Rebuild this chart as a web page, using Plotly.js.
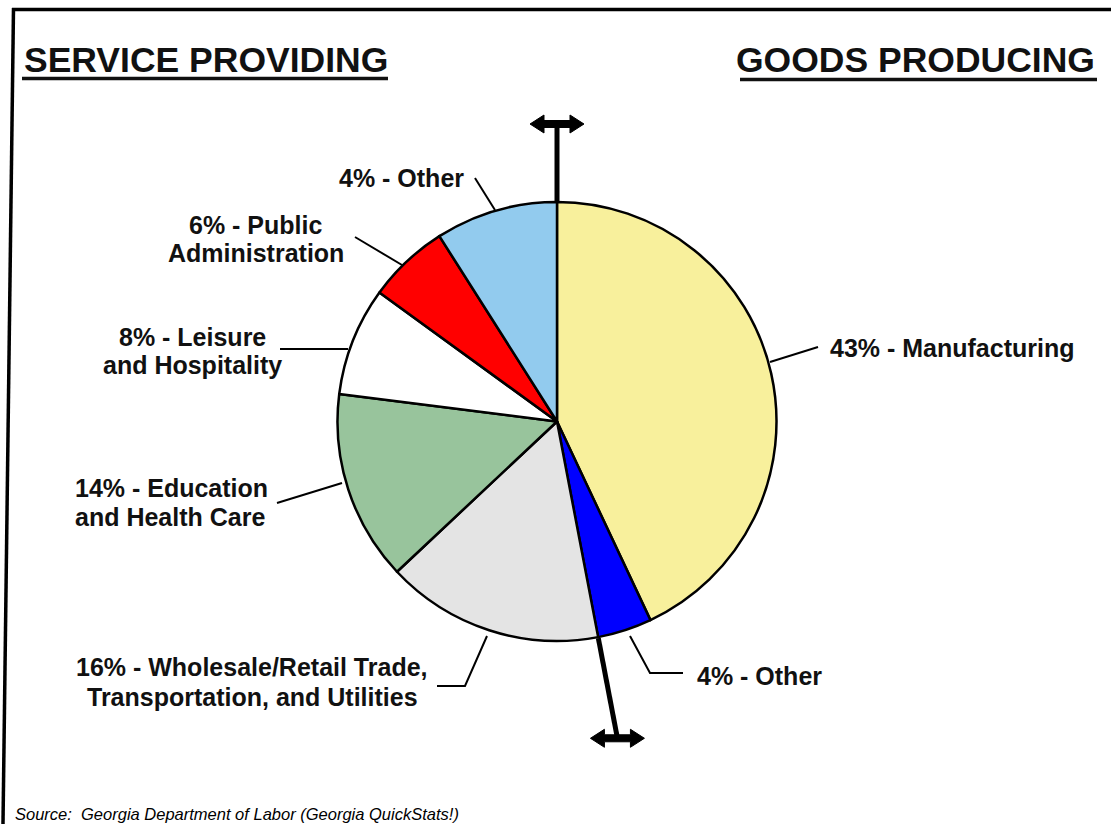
<!DOCTYPE html>
<html>
<head>
<meta charset="utf-8">
<script src="https://cdn.plot.ly/plotly-3.0.1.min.js"></script>
<style>html,body{margin:0;padding:0;background:#fff;}#chart{width:1111px;height:824px;}</style>
</head>
<body>
<div id="chart"></div>
<script>
// ---------- data ----------
const categories = ['Manufacturing', 'Other (Goods)', 'Wholesale/Retail Trade, Transportation, and Utilities',
  'Education and Health Care', 'Leisure and Hospitality', 'Public Administration', 'Other (Services)'];
const shares = [43, 4, 16, 14, 8, 6, 9];          // slice sizes as drawn
const goodsCount = 2;                              // first two slices are goods producing
const labelLines = [
  ['43% - Manufacturing'],
  ['4% - Other'],
  ['16% - Wholesale/Retail Trade,', 'Transportation, and Utilities'],
  ['14% - Education', 'and Health Care'],
  ['8% - Leisure', 'and Hospitality'],
  ['6% - Public', 'Administration'],
  ['4% - Other']
];
const groupTitles = ['SERVICE PROVIDING', 'GOODS PRODUCING'];
const sourceNote = 'Source:  Georgia Department of Labor (Georgia QuickStats!)';

// ---------- styles / positions ----------
const colors = ['#F8F09C', '#0000FF', '#E4E4E4', '#98C49C', '#FFFFFF', '#FF0000', '#92CBEE'];
const W = 1111, H = 824;
const cx = 557, cy = 421.5, R = 219.5;
const FONT = 'Arial, "Liberation Sans", sans-serif';
const labelPos = [
  {x: 828, ys: [348], anchor: 'left', leader: [[770, 362], [818, 347]]},
  {x: 695, ys: [676], anchor: 'left', leader: [[630, 636], [650, 673], [683, 673]]},
  {x: 252, ys: [667, 697], anchor: 'center', leader: [[437, 686], [465, 686], [487, 636]]},
  {x: 73, ys: [488, 517], anchor: 'left', leader: [[277, 503], [342, 483]]},
  {x: 192, ys: [337, 365], anchor: 'center', leader: [[280, 349], [348, 349]]},
  {x: 255.5, ys: [225, 253], anchor: 'center', leader: [[355, 237], [402, 265]]},
  {x: 401.5, ys: [178], anchor: 'center', leader: [[475, 178], [495, 210]]}
];

const X = px => px / W;
const Y = py => 1 - py / H;

const trace = {
  type: 'pie',
  labels: categories,
  values: shares,
  sort: false,
  direction: 'clockwise',
  rotation: 0,
  textinfo: 'none',
  hoverinfo: 'skip',
  showlegend: false,
  marker: {colors: colors, line: {color: '#000', width: 2.5}},
  domain: {x: [X(cx - R), X(cx + R)], y: [Y(cy + R), Y(cy - R)]}
};

const shapes = [];
const annotations = [];

function pathOf(pts) {
  return pts.map((p, i) => (i ? 'L' : 'M') + X(p[0]).toFixed(5) + ',' + Y(p[1]).toFixed(5)).join(' ');
}

// frame
shapes.push({type: 'path', xref: 'paper', yref: 'paper', path: pathOf([[13.5, 8], [3, 824]]), line: {color: '#000', width: 3.5}});
shapes.push({type: 'path', xref: 'paper', yref: 'paper', path: pathOf([[12, 9.5], [1111, 9.5]]), line: {color: '#000', width: 3.5}});

// leaders + labels
labelLines.forEach((lines, i) => {
  const lp = labelPos[i];
  shapes.push({type: 'path', xref: 'paper', yref: 'paper', path: pathOf(lp.leader), line: {color: '#000', width: 2}});
  lines.forEach((t, j) => {
    annotations.push({
      xref: 'paper', yref: 'paper', x: X(lp.x), y: Y(lp.ys[j]), xanchor: lp.anchor, yanchor: 'middle',
      text: t, showarrow: false, font: {family: FONT, size: 25, color: '#111', weight: 'bold'}
    });
  });
});

// group titles with underline
const titlePos = [{x0: 22, x1: 388, y: 59.5, uy: 78.5, anchor: 'left'}, {x0: 740, x1: 1097, y: 59.5, uy: 79.5, anchor: 'right'}];
groupTitles.forEach((t, i) => {
  const tp = titlePos[i];
  annotations.push({
    xref: 'paper', yref: 'paper', x: X(tp.anchor === 'left' ? tp.x0 : tp.x1), y: Y(tp.y),
    xanchor: tp.anchor, yanchor: 'middle', text: t, showarrow: false,
    font: {family: FONT, size: 35.5, color: '#111', weight: 'bold'}
  });
  shapes.push({type: 'path', xref: 'paper', yref: 'paper', path: pathOf([[tp.x0, tp.uy], [tp.x1, tp.uy]]), line: {color: '#111', width: 3.5}});
});

// source note
annotations.push({
  xref: 'paper', yref: 'paper', x: X(13), y: Y(814), xanchor: 'left', yanchor: 'middle',
  text: '<i>' + sourceNote + '</i>', showarrow: false, font: {family: FONT, size: 16.5, color: '#000'}
});

// divider between service and goods slices, extended with double arrows
const total = shares.reduce((a, b) => a + b, 0);
const goodsShare = shares.slice(0, goodsCount).reduce((a, b) => a + b, 0);
const dividerAngles = [0, goodsShare / total * 360];
const dividerLen = [297.5, 322.5];
dividerAngles.forEach((deg, k) => {
  const a = deg * Math.PI / 180;
  const sx = cx + (R + 1) * Math.sin(a), sy = cy - (R + 1) * Math.cos(a);
  const ex = cx + dividerLen[k] * Math.sin(a), ey = cy - dividerLen[k] * Math.cos(a);
  shapes.push({type: 'path', xref: 'paper', yref: 'paper', path: pathOf([[sx, sy], [ex, ey]]), line: {color: '#000', width: 5}});
  const p = [[ex - 27, ey], [ex - 13, ey - 9], [ex - 13, ey - 3.5], [ex + 13, ey - 3.5], [ex + 13, ey - 9], [ex + 27, ey],
    [ex + 13, ey + 9], [ex + 13, ey + 3.5], [ex - 13, ey + 3.5], [ex - 13, ey + 9]];
  shapes.push({type: 'path', xref: 'paper', yref: 'paper', path: pathOf(p) + ' Z', fillcolor: '#000', line: {color: '#000', width: 1}});
});

const layout = {
  width: W, height: H,
  margin: {l: 0, r: 0, t: 0, b: 0},
  paper_bgcolor: '#fff',
  plot_bgcolor: '#fff',
  showlegend: false,
  shapes: shapes,
  annotations: annotations
};

Plotly.newPlot('chart', [trace], layout, {displayModeBar: false, staticPlot: true});
</script>
</body>
</html>
